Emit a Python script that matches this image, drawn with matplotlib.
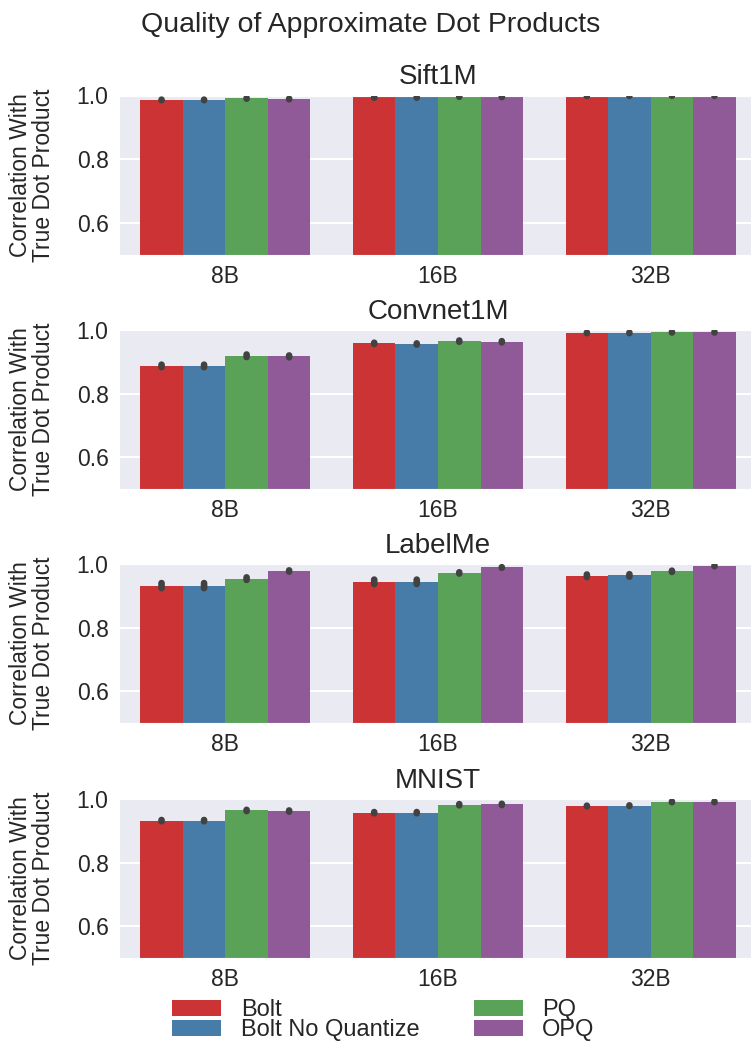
import matplotlib
matplotlib.use("Agg")
from matplotlib import pyplot as plt
import seaborn as sns
import numpy as np

datasets = ["Sift1M", "Convnet1M", "LabelMe", "MNIST"]
byte_labels = ["8B", "16B", "32B"]
methods = ["Bolt", "Bolt No Quantize", "PQ", "OPQ"]
colors = ["#cb3335", "#477ca8", "#59a257", "#905998"]

# mean correlation per dataset, rows = methods, cols = 8B / 16B / 32B
sift = [[0.986, 0.994, 0.999],
        [0.986, 0.994, 0.999],
        [0.991, 0.997, 0.9995],
        [0.989, 0.996, 0.9995]]
convnet = [[0.887, 0.958, 0.991],
           [0.887, 0.956, 0.991],
           [0.919, 0.965, 0.993],
           [0.917, 0.963, 0.993]]
labelme = [[0.932, 0.944, 0.963],
           [0.932, 0.944, 0.964],
           [0.954, 0.972, 0.977],
           [0.978, 0.989, 0.994]]
mnist = [[0.932, 0.957, 0.978],
         [0.932, 0.957, 0.979],
         [0.964, 0.982, 0.991],
         [0.962, 0.983, 0.991]]

# half widths of the confidence intervals
sift_err = [[0.001, 0.001, 0.0005]] * 4
convnet_err = [[0.004, 0.002, 0.001],
               [0.004, 0.002, 0.001],
               [0.004, 0.002, 0.001],
               [0.003, 0.002, 0.001]]
labelme_err = [[0.008, 0.007, 0.004],
               [0.008, 0.007, 0.004],
               [0.004, 0.002, 0.002],
               [0.002, 0.001, 0.001]]
mnist_err = [[0.002, 0.002, 0.001]] * 4

all_vals = [sift, convnet, labelme, mnist]
all_errs = [sift_err, convnet_err, labelme_err, mnist_err]

sns.set_style("darkgrid")
plt.rcParams["font.family"] = ["Liberation Sans", "DejaVu Sans"]
plt.rcParams["text.color"] = ".15"
plt.rcParams["axes.labelcolor"] = ".15"
plt.rcParams["xtick.color"] = ".15"
plt.rcParams["ytick.color"] = ".15"
plt.rcParams["grid.linewidth"] = 1.5

W, H = 751, 1042
fig = plt.figure(figsize=(W / 100, H / 100), dpi=100)

tops = [95.5, 330, 564, 799]
ax_h = 159
x = np.arange(len(byte_labels))
bw = 0.2

for i, name in enumerate(datasets):
    ax = fig.add_axes([119 / W, 1 - (tops[i] + ax_h) / H, 638 / W, ax_h / H])
    vals = all_vals[i]
    errs = all_errs[i]
    for j in range(len(methods)):
        xs = x - 0.4 + bw * (j + 0.5)
        ax.bar(xs, vals[j], width=bw, color=colors[j], label=methods[j],
               linewidth=0, zorder=2)
        for k in range(len(xs)):
            ax.plot([xs[k], xs[k]], [vals[j][k] - errs[j][k], vals[j][k] + errs[j][k]],
                    color=".26", lw=4.8, solid_capstyle="round", zorder=3, snap=False)
    ax.set_xlim(-0.5, 2.5)
    ax.set_ylim(0.5, 1.0)
    ax.set_yticks([0.6, 0.8, 1.0])
    ax.set_xticks(x)
    ax.set_xticklabels(byte_labels)
    ax.grid(False, axis="x")
    ax.tick_params(labelsize=16.5, pad=4)
    ax.set_title(name, fontsize=20, pad=8)
    ax.set_ylabel("Correlation With\nTrue Dot Product", fontsize=16.5, linespacing=1.0)
    ax.yaxis.set_label_coords(-0.1, 0.5)
    if i == 0:
        handles, labels = ax.get_legend_handles_labels()

fig.text(0.493, 1 - 32 / H, "Quality of Approximate Dot Products", fontsize=20.5,
         ha="center", va="baseline")

fig.legend(handles, labels, ncol=2, loc="upper left", bbox_to_anchor=(172 / W, 1 - 999 / H),
           frameon=False, fontsize=17, handlelength=2.08, handleheight=0.68,
           handletextpad=0.83, labelspacing=-0.08, columnspacing=2.3,
           borderpad=0, borderaxespad=0)

fig.savefig("out.png", dpi=100)
